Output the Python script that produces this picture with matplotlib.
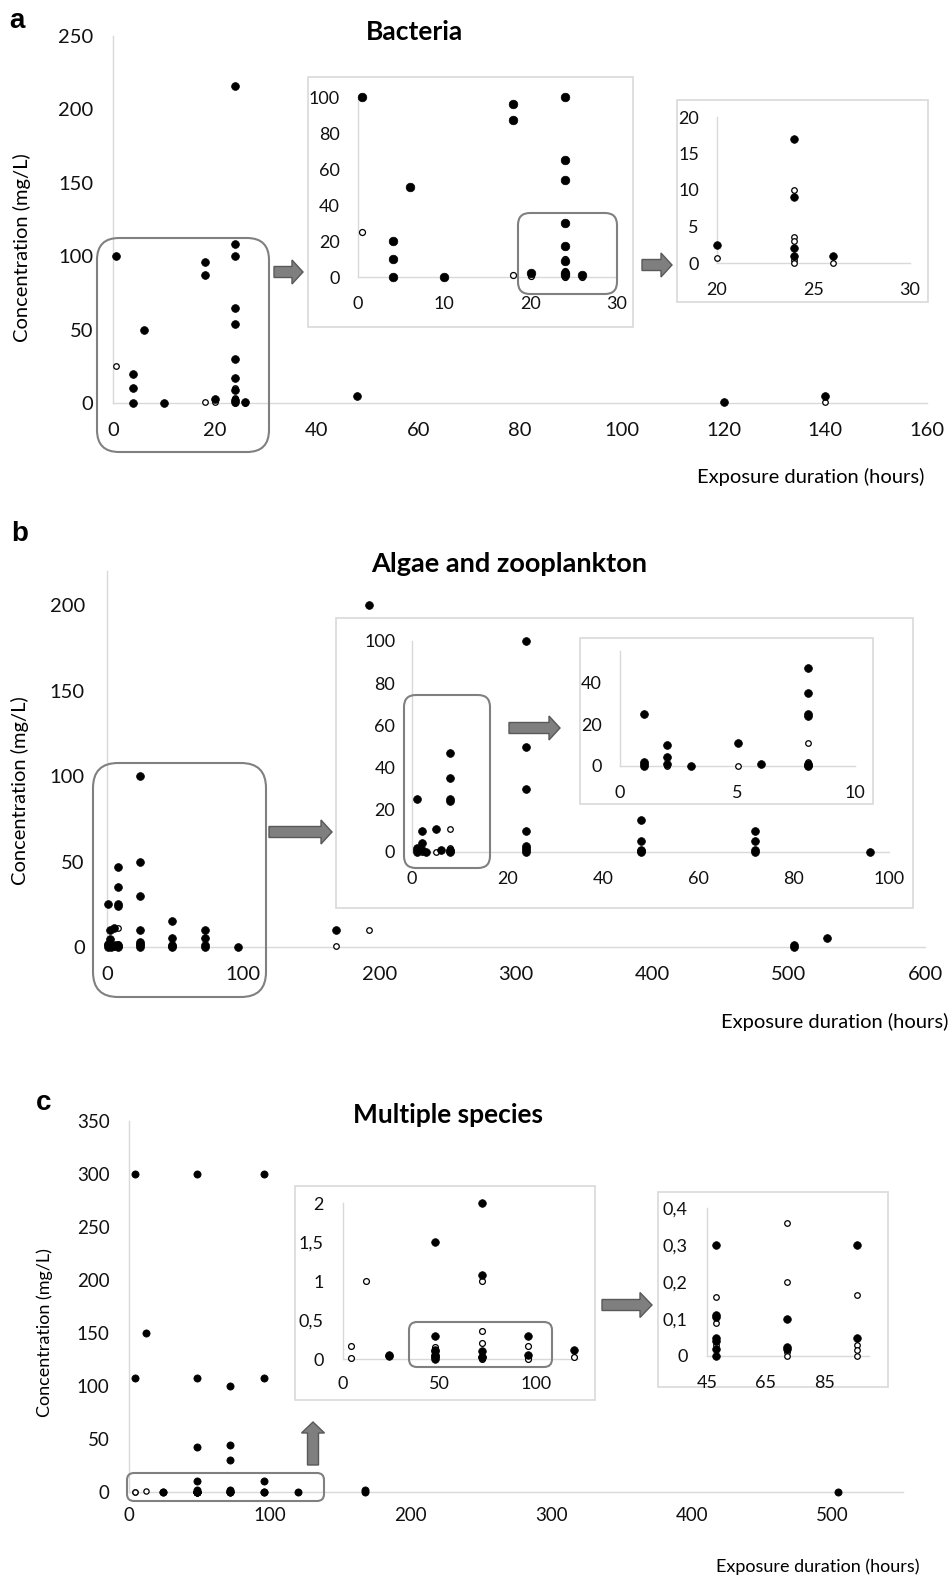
import numpy as np
import matplotlib
matplotlib.use("Agg")
import matplotlib.pyplot as plt
from matplotlib.patches import FancyBboxPatch, FancyArrow, Rectangle

W, H, DPI = 952, 1580, 100
plt.rcParams['font.family'] = ['Lato', 'DejaVu Sans']

# ---- data (hours, mg/L) ----
# a: Bacteria
a_filled_x = [0.5, 4, 4, 4, 6, 10, 18, 18, 20, 24, 24, 24, 24, 24, 24, 24, 24, 24, 24, 26, 48, 120, 140]
a_filled_y = [100, 20, 10, 0, 50, 0, 96, 87, 2.5, 216, 108, 100, 65, 54, 30, 17, 9, 2, 1, 1, 5, 0.5, 5]
a_open_x = [0.5, 18, 20, 24, 24, 24, 24, 24, 26, 140]
a_open_y = [25, 1, 0.7, 10, 3.5, 3, 0.4, 0, 0, 0.5]

# b: Algae and zooplankton
b_filled_x = [1, 1, 1, 1, 2, 2, 2, 3, 5, 6, 8, 8, 8, 8, 8, 8, 8,
              24, 24, 24, 24, 24, 24, 24, 24, 48, 48, 48, 48, 48,
              72, 72, 72, 72, 96, 168, 192, 504, 504, 528]
b_filled_y = [25, 2, 1, 0, 10, 4.5, 1, 0, 11, 1, 47, 35, 25, 24, 1, 0.5, 0,
              100, 50, 30, 10, 3, 2, 1, 0, 15, 5, 1, 0.5, 0,
              10, 5, 1, 0, 0, 10, 200, 0, 1, 5]
b_open_x = [2, 5, 8, 8, 168, 192]
b_open_y = [0, 0, 11, 2, 0.5, 10]

# c: Multiple species
c_filled_x = [4, 4, 12, 24, 24, 48, 48, 48, 48, 48, 48, 48, 48, 48, 48, 48, 48,
              72, 72, 72, 72, 72, 72, 72, 72, 96, 96, 96, 96, 96, 120, 168, 168, 504]
c_filled_y = [300, 108, 150, 0.05, 0.04, 300, 108, 42, 10, 1.5, 0.3, 0.11, 0.105, 0.05, 0.04, 0.02, 0,
              100, 44, 30, 2, 1.08, 0.1, 0.025, 0.02, 300, 108, 10, 0.3, 0.05, 0.11, 2, 0, 0]
c_open_x = [4, 4, 12, 48, 48, 48, 72, 72, 72, 72, 72, 96, 96, 96, 96, 120]
c_open_y = [0.17, 0.01, 1.0, 0.16, 0.09, 0.03, 1.0, 0.36, 0.2, 0.01, 0, 0.165, 0.03, 0.015, 0, 0.03]

# ticks
a_xticks = [0, 20, 40, 60, 80, 100, 120, 140, 160]
a_yticks = [0, 50, 100, 150, 200, 250]
a1_xticks = [0, 10, 20, 30]
a1_yticks = [0, 20, 40, 60, 80, 100]
a2_xticks = [20, 25, 30]
a2_yticks = [0, 5, 10, 15, 20]
b_xticks = [0, 100, 200, 300, 400, 500, 600]
b_yticks = [0, 50, 100, 150, 200]
b1_xticks = [0, 20, 40, 60, 80, 100]
b1_yticks = [0, 20, 40, 60, 80, 100]
b2_xticks = [0, 5, 10]
b2_yticks = [0, 20, 40]
c_xticks = [0, 100, 200, 300, 400, 500]
c_yticks = [0, 50, 100, 150, 200, 250, 300, 350]
c1_xticks = [0, 50, 100]
c1_yticks = [0, 0.5, 1, 1.5, 2]
c2_xticks = [45, 65, 85]
c2_yticks = [0, 0.1, 0.2, 0.3, 0.4]

AXIS_GREY = '#d9d9d9'
fig = plt.figure(figsize=(W / DPI, H / DPI), dpi=DPI)


def fmt(v):
    return f"{v:g}".replace('.', ',')


# axes placed by pixel position of the plot frame
def make_axes(x0, x1, ytop, ybot, xlim, ylim, xticks, yticks, z=0, fs=14.5, xpad=14, ypad=14):
    ax = fig.add_axes([x0 / W, 1 - ybot / H, (x1 - x0) / W, (ybot - ytop) / H], zorder=z)
    ax.patch.set_alpha(0)
    ax.set_xlim(xlim)
    ax.set_ylim(ylim)
    for s in ['top', 'right']:
        ax.spines[s].set_visible(False)
    for s in ['left', 'bottom']:
        ax.spines[s].set_color(AXIS_GREY)
        ax.spines[s].set_linewidth(1.0)
    ax.set_xticks(xticks)
    ax.set_xticklabels([fmt(v) for v in xticks])
    ax.set_yticks(yticks)
    ax.set_yticklabels([fmt(v) for v in yticks])
    ax.tick_params(length=0, labelsize=fs, colors='#111111')
    ax.tick_params(axis='x', pad=xpad)
    ax.tick_params(axis='y', pad=ypad)
    return ax


# open circles first, filled dots on top
def points(ax, fx, fy, ox, oy, ms=5.6, oms=4.0):
    xl, yl = ax.get_xlim(), ax.get_ylim()
    for xs, ys, filled in [(ox, oy, False), (fx, fy, True)]:
        xs, ys = np.asarray(xs, float), np.asarray(ys, float)
        m = (xs >= xl[0]) & (xs <= xl[1]) & (ys >= yl[0]) & (ys <= yl[1])
        if filled:
            ax.plot(xs[m], ys[m], 'o', ms=ms, mfc='black', mec='black', mew=0.5, ls='none', clip_on=False, zorder=4)
        else:
            ax.plot(xs[m], ys[m], 'o', ms=oms, mfc='white', mec='black', mew=0.9, ls='none', clip_on=False, zorder=3)


def frame(x0, y0, x1, y1, z):
    r = Rectangle((x0 / DPI, (H - y1) / DPI), (x1 - x0) / DPI, (y1 - y0) / DPI,
                  transform=fig.dpi_scale_trans, fc='white', ec=AXIS_GREY, lw=1.2, zorder=z)
    fig.add_artist(r)


def rounded(x0, y0, x1, y1, r):
    p = FancyBboxPatch((x0 / DPI, (H - y1) / DPI), (x1 - x0) / DPI, (y1 - y0) / DPI,
                       boxstyle=f"round,pad=0,rounding_size={r / DPI}",
                       transform=fig.dpi_scale_trans, fill=False, ec='#808080', lw=1.5, zorder=20)
    fig.add_artist(p)


def arrow(x0, y0, x1, y1, w=11, hw=24, hl=11):
    a = FancyArrow(x0 / DPI, (H - y0) / DPI, (x1 - x0) / DPI, -(y1 - y0) / DPI,
                   width=w / DPI, head_width=hw / DPI, head_length=hl / DPI, length_includes_head=True,
                   transform=fig.dpi_scale_trans, fc='#7f7f7f', ec='#595959', lw=1.0, zorder=20)
    fig.add_artist(a)


def ftext(x, y, s, **kw):
    fig.text(x / W, 1 - y / H, s, **kw)


# ---------------- panel a ----------------
ax = make_axes(113, 927, 36, 403, (0, 160), (0, 250), a_xticks, a_yticks, z=0, xpad=14, ypad=14)
points(ax, a_filled_x, a_filled_y, a_open_x, a_open_y)
frame(308, 77, 633, 327, 1)
ax = make_axes(358, 617, 97, 277, (0, 30), (0, 100), a1_xticks, a1_yticks, z=2, fs=13, xpad=14, ypad=13)
points(ax, a_filled_x, a_filled_y, a_open_x, a_open_y, ms=6.2, oms=4.3)
frame(677, 100, 928, 302, 1)
ax = make_axes(717, 910, 117, 263, (20, 30), (0, 20), a2_xticks, a2_yticks, z=2, fs=13, xpad=14, ypad=13)
points(ax, a_filled_x, a_filled_y, a_open_x, a_open_y, ms=5.5, oms=4.0)
rounded(97, 238, 269, 452, 22)
rounded(518, 213, 617, 294, 12)
arrow(274, 272, 303, 272)
arrow(642, 265, 672, 265)
ftext(17, 21, 'a', family=['Liberation Sans'], fontweight='bold', fontsize=20, ha='center', va='center')
ftext(414, 32, 'Bacteria', fontweight='bold', fontsize=19, ha='center', va='center')
ftext(22, 248, 'Concentration (mg/L)', fontsize=14.5, rotation=90, ha='center', va='center')
ftext(924, 477, 'Exposure duration (hours)', fontsize=14.5, ha='right', va='center')

# ---------------- panel b ----------------
ax = make_axes(107, 925, 571, 947, (0, 600), (0, 220), b_xticks, b_yticks, z=0, xpad=14, ypad=16)
points(ax, b_filled_x, b_filled_y, b_open_x, b_open_y)
frame(336, 618, 913, 908, 1)
ax = make_axes(412, 889, 641, 852, (0, 100), (0, 100), b1_xticks, b1_yticks, z=2, fs=13, xpad=14, ypad=12)
points(ax, b_filled_x, b_filled_y, b_open_x, b_open_y)
frame(580, 638, 873, 804, 3)
ax = make_axes(620, 855, 651, 766, (0, 10), (0, 55), b2_xticks, b2_yticks, z=4, fs=13, xpad=14, ypad=13)
points(ax, b_filled_x, b_filled_y, b_open_x, b_open_y)
rounded(93, 763, 266, 997, 25)
rounded(404, 695, 490, 868, 12)
arrow(269, 832, 332, 832)
arrow(509, 728, 560, 728)
ftext(20, 534, 'b', family=['Liberation Sans'], fontweight='bold', fontsize=20, ha='center', va='center')
ftext(509, 564, 'Algae and zooplankton', fontweight='bold', fontsize=19.5, ha='center', va='center')
ftext(20, 791, 'Concentration (mg/L)', fontsize=14.5, rotation=90, ha='center', va='center')
ftext(948, 1022, 'Exposure duration (hours)', fontsize=14.5, ha='right', va='center')

# ---------------- panel c ----------------
ax = make_axes(129, 903, 1121, 1492, (0, 550), (0, 350), c_xticks, c_yticks, z=0, fs=13.5, xpad=11, ypad=14)
points(ax, c_filled_x, c_filled_y, c_open_x, c_open_y, ms=5.2, oms=3.8)
frame(295, 1186, 595, 1400, 1)
ax = make_axes(343, 578, 1203, 1359, (0, 122), (0, 2), c1_xticks, c1_yticks, z=2, fs=13, xpad=12, ypad=14)
points(ax, c_filled_x, c_filled_y, c_open_x, c_open_y, ms=5.5, oms=4.2)
frame(658, 1192, 888, 1387, 1)
ax = make_axes(707, 869, 1208, 1356, (45, 100), (0, 0.4), c2_xticks, c2_yticks, z=2, fs=13, xpad=14, ypad=14)
points(ax, c_filled_x, c_filled_y, c_open_x, c_open_y, ms=5.5, oms=4.0)
rounded(127, 1473, 324, 1501, 7)
rounded(409, 1322, 552, 1367, 8)
arrow(313, 1465, 313, 1422, w=11, hw=23, hl=11)
arrow(602, 1305, 652, 1305, w=11, hw=25, hl=12)
ftext(44, 1103, 'c', family=['Liberation Sans'], fontweight='bold', fontsize=20, ha='center', va='center')
ftext(448, 1115, 'Multiple species', fontweight='bold', fontsize=19, ha='center', va='center')
ftext(45, 1333, 'Concentration (mg/L)', fontsize=13, rotation=90, ha='center', va='center')
ftext(919, 1567, 'Exposure duration (hours)', fontsize=13, ha='right', va='center')

fig.savefig('out.png', dpi=DPI)
